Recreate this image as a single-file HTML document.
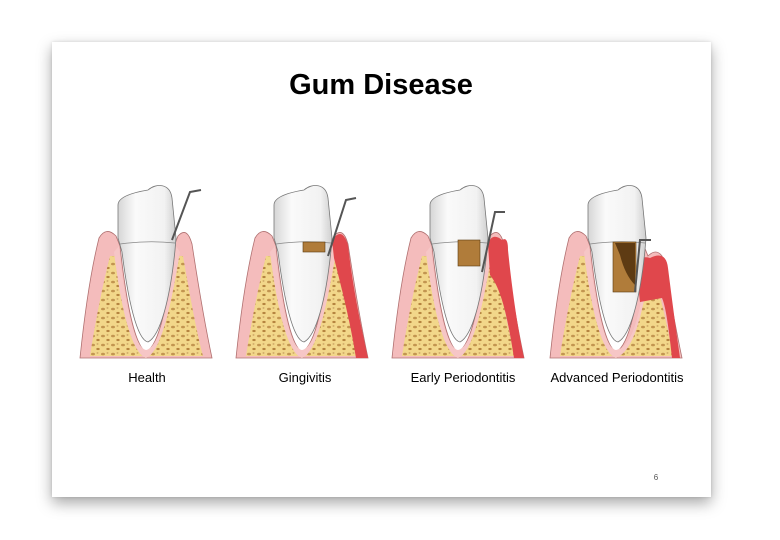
<!DOCTYPE html>
<html><head><meta charset="utf-8"><style>
html,body{margin:0;padding:0;background:#fff;width:780px;height:540px;overflow:hidden;font-family:"Liberation Sans",sans-serif}
.slide{position:absolute;left:52px;top:42px;width:659px;height:455px;background:#fff;box-shadow:0 6px 14px rgba(0,0,0,.35),0 0 3px rgba(0,0,0,.12)}
svg{position:absolute;left:0;top:0}
</style></head><body>
<div class="slide"></div>
<svg width="780" height="540" viewBox="0 0 780 540">
<defs>
<pattern id="dots" width="10" height="9" patternUnits="userSpaceOnUse">
<rect width="10" height="9" fill="#f2d78a"/>
<ellipse cx="3" cy="3" rx="2" ry="1.3" fill="#c29550"/>
<ellipse cx="8" cy="7" rx="1.7" ry="1.1" fill="#b5843f"/>
<ellipse cx="7.5" cy="2" rx="1" ry="0.7" fill="#c9a060"/>
</pattern>
<linearGradient id="tg" x1="0" x2="1">
<stop offset="0" stop-color="#d6d6d6"/><stop offset=".3" stop-color="#fafafa"/><stop offset=".8" stop-color="#f2f2f2"/><stop offset="1" stop-color="#cfcfcf"/>
</linearGradient>
<g id="base">
<path d="M80,358 C86,300 93,262 99,238 Q106,226 116,236 L120,246 C126,300 134,345 146,352 C160,345 168,300 174,246 L178,236 Q187,226 192,244 C199,290 206,330 212,358 Z" fill="#f4bcbc" stroke="#b07070" stroke-width="0.8"/>
<path d="M90,356 C97,312 104,280 110,256 L116,256 C122,300 130,352 146,358 C162,352 170,300 177,256 L183,256 C189,290 196,330 203,356 Z" fill="url(#dots)"/>
<path d="M114,252 C120,300 130,352 146,358 C162,352 172,300 180,252 L176,246 C170,300 160,348 146,350 C134,348 124,300 119,246 Z" fill="#f6c6c6"/>
</g>
<g id="tooth">
<path d="M118,205 C118,196 136,192 148,190 C156,183 170,183 172,198 L176,238 L175,250 C170,300 160,336 148,342 C137,340 128,300 122,252 L118,238 Z" fill="url(#tg)" stroke="#777" stroke-width="0.8"/>
<path d="M120,244 Q148,240 175,243" fill="none" stroke="#888" stroke-width="0.8"/>
</g>
</defs>

<text x="381" y="94" text-anchor="middle" font-size="29" font-weight="bold" fill="#000">Gum Disease</text>

<!-- Health -->
<use href="#base"/><use href="#tooth"/>
<path d="M172,240 L190,192 L201,190" fill="none" stroke="#555" stroke-width="2"/>

<!-- Gingivitis -->
<g transform="translate(156,0)">
<use href="#base"/>
<path d="M176,240 Q186,226 192,245 C197,290 206,330 212,358 L200,358 C194,320 186,290 178,258 Z" fill="#e0474c"/>
<use href="#tooth"/>
<rect x="147" y="242" width="22" height="10" fill="#b07c3a" stroke="#5a3a10" stroke-width="0.6"/>
<path d="M172,256 L190,200 L200,198" fill="none" stroke="#555" stroke-width="2"/>
</g>

<!-- Early -->
<g transform="translate(312,0)">
<use href="#base"/>
<path d="M176,244 Q180,232 190,240 Q196,236 196,250 C200,290 206,330 212,358 L202,358 C196,320 190,290 178,275 Z" fill="#e0474c"/>
<use href="#tooth"/>
<rect x="146" y="240" width="22" height="26" fill="#b07c3a" stroke="#5a3a10" stroke-width="0.6"/>
<path d="M170,272 L183,212 L193,212" fill="none" stroke="#555" stroke-width="2"/>
</g>

<!-- Advanced -->
<g transform="translate(470,0)">
<path d="M80,358 C86,300 93,262 99,238 Q106,226 116,236 L120,246 C126,300 134,345 146,352 C160,345 168,300 174,246 L178,256 Q186,248 192,256 C199,290 206,330 212,358 Z" fill="#f4bcbc" stroke="#b07070" stroke-width="0.8"/>
<path d="M90,356 C97,312 104,280 110,256 L116,256 C122,300 130,352 146,358 C162,352 170,300 176,300 L190,296 C196,320 200,340 203,356 Z" fill="url(#dots)"/>
<path d="M114,252 C120,300 130,352 146,358 C162,352 170,320 174,300 L172,296 C166,330 158,348 146,350 C134,348 124,300 119,246 Z" fill="#f6c6c6"/>
<path d="M166,265 Q170,255 180,258 Q196,250 198,268 C202,300 206,330 210,358 L202,358 C198,320 195,305 192,298 L170,302 Z" fill="#e0474c"/>
<use href="#tooth"/>
<rect x="143" y="242" width="23" height="50" fill="#b07c3a" stroke="#5a3a10" stroke-width="0.6"/>
<path d="M145,243 L165,243 L165,285 Q155,275 150,255 Z" fill="#4a2a0a" opacity=".8"/>
<path d="M165,292 L170,240 L181,240" fill="none" stroke="#555" stroke-width="2"/>
</g>

<g font-size="13" fill="#000" text-anchor="middle">
<text x="147" y="382">Health</text>
<text x="305" y="382">Gingivitis</text>
<text x="463" y="382">Early Periodontitis</text>
<text x="617" y="382">Advanced Periodontitis</text>
</g>
<text x="656" y="480" font-size="8" fill="#555" text-anchor="middle">6</text>
</svg>
</body></html>
